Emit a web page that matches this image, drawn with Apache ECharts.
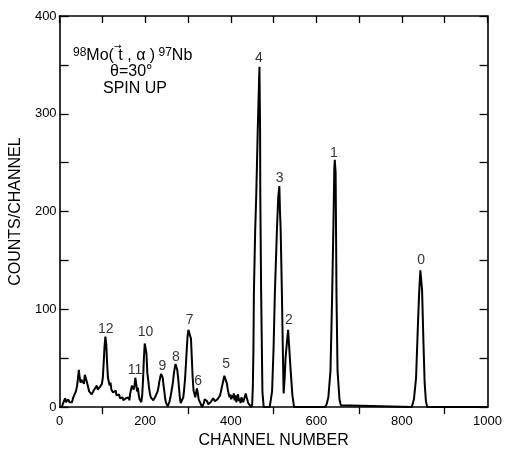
<!DOCTYPE html>
<html>
<head>
<meta charset="utf-8">
<script src="https://cdn.jsdelivr.net/npm/echarts@6/dist/echarts.min.js"></script>
<style>
html,body{margin:0;padding:0;background:#fff;}
#chart{width:505px;height:454px;}
</style>
</head>
<body>
<div id="chart"></div>
<script>
// Spectrum: channel numbers and counts per channel
const channels = [
  5,8,10,13,15,18,20,23,26,29,32,35,38,41,43,45,47,49,51,53,55,57,59,61,63,65,67,69,71,73,75,77,79,
  81,83,85,87,89,91,93,95,97,99,101,103,105,107,109,111,113,115,117,119,121,123,125,127,129,131,133,
  135,137,139,141,143,145,147,149,151,153,155,157,159,161,163,165,167,169,171,173,175,177,179,181,
  183,185,187,189,191,193,195,197,199,201,203,205,207,209,211,213,215,217,219,221,223,225,227,229,
  231,233,235,237,239,241,243,245,247,249,251,253,255,257,259,261,263,265,267,269,271,273,275,277,
  279,281,283,285,287,289,291,293,295,297,299,301,303,305,307,309,311,313,315,317,319,321,323,325,
  327,329,331,333,335,337,339,341,343,345,347,349,351,353,355,357,359,361,363,365,367,369,371,373,
  375,377,379,381,383,385,387,389,391,393,395,397,399,401,403,405,407,409,411,413,415,417,419,421,
  423,425,427,429,431,433,435,437,439,441,443,445,448,
  450,451.5,453,454,457,459.5,463,467,468.5,469,471,474,477,
  491,494,496.5,500,503,508,511,513.5,515,516.5,519.5,522,523.5,526,528,532,534,536,540,544,548,
  620,624,628,633,637,640,642,643,644,645,646,647,649.5,654,657,661,
  823,828,833,837,840,843,845,847,850,853,856,859,1000
];
const counts = [
  0,2,6,9,5,4,8,5,6,5,10,12,16,22,30,38,30,25,28,26,30,24,33,35,27,28,20,16,14,17,13,12,15,
  18,20,19,22,18,20,17,21,19,24,30,45,62,72,65,45,30,26,22,25,18,20,15,17,14,17,12,
  14,11,13,9,10,8,10,7,9,8,9,7,8,10,7,14,18,22,24,18,22,30,24,16,
  20,12,8,6,5,12,28,50,65,67,55,35,28,20,14,10,8,9,7,6,10,8,12,16,
  20,26,30,34,35,30,22,15,8,4,2,1,3,6,10,15,20,26,34,40,44,43,38,30,
  20,10,4,3,5,10,18,28,42,58,72,79,80,78,70,50,30,17,14,10,15,19,14,8,
  6,4,2,0,2,4,8,10,9,6,3,1,2,5,4,7,9,8,6,7,5,8,7,9,
  12,16,20,24,28,32,34,30,24,18,14,10,13,8,12,9,14,7,12,5,10,13,6,9,
  4,10,8,5,3,6,14,10,8,4,6,2,0,
  3,20,60,116,180,216,283,348,283,216,116,15,0,
  0,2,16,60,116,183,215,226,200,183,116,50,14,30,50,70,79,65,37,12,0,
  0,3,10,37,116,190,245,253,253,240,180,116,37,8,2,0,
  0,8,30,80,115,140,142,120,70,25,6,0,0
];

// Peak labels and the point (channel, counts) each label sits above
const peakNames = ['12','11','10','9','8','7','6','5','4','3','2','1','0'];
const peakChannels = [108,176,201,240,272,304,324,389,466,514,536,641,845];
const peakCounts = [71,29,67,33,42,80,17,35,348,225,80,251,141];

// Axis tick labels
const xTickLabels = [0,200,400,600,800,1000];
const yTickLabels = [0,100,200,300,400];

const spectrum = channels.map((c, i) => [c, counts[i]]);
const peaks = peakNames.map((n, i) => ({name: n, value: [peakChannels[i], peakCounts[i]]}));

const FONT = 'Liberation Sans';
const chart = echarts.init(document.getElementById('chart'), null, {renderer: 'canvas'});

const axisLine = {show: true, onZero: false, lineStyle: {color: '#000', width: 1.6}};
const tickStyle = {color: '#000', width: 1.3};

chart.setOption({
  animation: false,
  backgroundColor: '#fff',
  textStyle: {fontFamily: FONT, color: '#000'},
  grid: {left: 56, right: 16, top: 16, bottom: 37, containLabel: false},
  xAxis: [
    {
      type: 'value', position: 'bottom', min: 0, max: 1000, interval: 200,
      axisLine: axisLine,
      axisTick: {show: false, inside: false},
      minorTick: {show: true, splitNumber: 2, length: 7, lineStyle: tickStyle},
      axisLabel: {
        margin: 8, fontSize: 13, fontFamily: FONT, color: '#000',
        formatter: v => xTickLabels.indexOf(v) >= 0 ? String(v) : ''
      },
      splitLine: {show: false},
      name: 'CHANNEL NUMBER', nameLocation: 'middle', nameGap: 22,
      nameTextStyle: {fontSize: 16, fontFamily: FONT, color: '#000'}
    },
    {
      type: 'value', position: 'top', min: 0, max: 1000, interval: 100,
      axisLine: axisLine,
      axisTick: {show: true, inside: true, length: 7, lineStyle: tickStyle},
      axisLabel: {show: false},
      splitLine: {show: false}
    }
  ],
  yAxis: [
    {
      type: 'value', position: 'left', min: 0, max: 400, interval: 50,
      axisLine: axisLine,
      axisTick: {show: true, inside: true, length: 9, lineStyle: tickStyle},
      axisLabel: {
        margin: 3, fontSize: 13, fontFamily: FONT, color: '#000',
        formatter: v => yTickLabels.indexOf(v) >= 0 ? String(v) : ''
      },
      splitLine: {show: false},
      name: 'COUNTS/CHANNEL', nameLocation: 'middle', nameGap: 28,
      nameTextStyle: {fontSize: 16, fontFamily: FONT, color: '#000'}
    },
    {
      type: 'value', position: 'right', min: 0, max: 400, interval: 50,
      axisLine: axisLine,
      axisTick: {show: true, inside: true, length: 8, lineStyle: tickStyle},
      axisLabel: {show: false},
      splitLine: {show: false}
    }
  ],
  series: [
    {
      type: 'line', xAxisIndex: 0, yAxisIndex: 0,
      data: spectrum, showSymbol: false, symbol: 'none',
      lineStyle: {color: '#000', width: 2}, smooth: false
    },
    {
      type: 'scatter', xAxisIndex: 1, yAxisIndex: 1,
      data: peaks, symbolSize: 0,
      label: {
        show: true, position: 'top', distance: 2,
        formatter: p => p.name, fontSize: 14, fontFamily: FONT, color: '#000'
      }
    }
  ],
  graphic: [
    {
      type: 'text', left: 73, top: 43,
      style: {
        text: '{s|98}{m|Mo( t , \u03B1 )} {s|97}{m|Nb}',
        fill: '#000',
        rich: {
          s: {fontSize: 12, fontFamily: FONT, fill: '#000', verticalAlign: 'top', lineHeight: 12},
          m: {fontSize: 16, fontFamily: FONT, fill: '#000', verticalAlign: 'bottom', lineHeight: 17, padding: [5, 0, 0, 0]}
        }
      }
    },
    {
      type: 'text', left: 114, top: 42,
      style: {text: '\u2192', fill: '#000', font: '9px "DejaVu Sans"'}
    },
    {
      type: 'text', left: 110, top: 64,
      style: {text: '\u03B8=30\u00B0', fill: '#000', font: '16px "Liberation Sans"'}
    },
    {
      type: 'text', left: 103, top: 81,
      style: {text: 'SPIN UP', fill: '#000', font: '16px "Liberation Sans"'}
    }
  ]
});
</script>
</body>
</html>
